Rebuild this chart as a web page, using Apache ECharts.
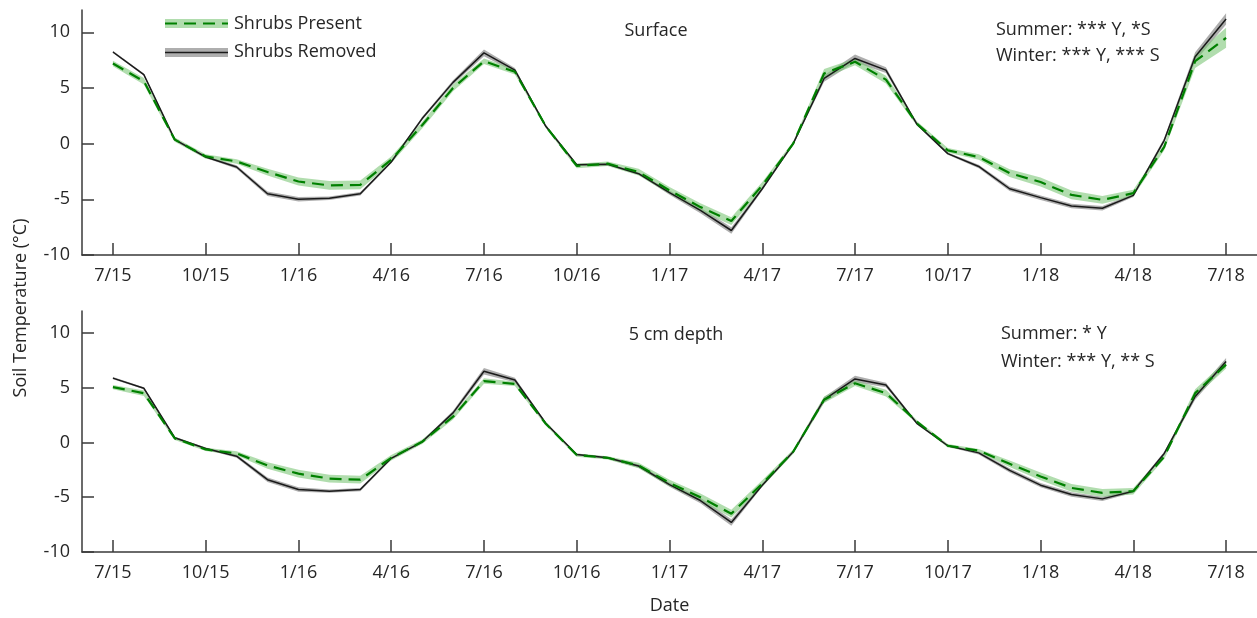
<!DOCTYPE html>
<html>
<head>
<meta charset="utf-8">
<script src="https://cdn.jsdelivr.net/npm/echarts@6/dist/echarts.min.js"></script>
<style>
  html, body { margin: 0; padding: 0; background: #fff; }
  #chart { width: 1257px; height: 618px; }
</style>
</head>
<body>
<div id="chart"></div>
<script>
// Monthly mean soil temperature, 7/15 .. 7/18 (month index 0..36)
const tickLabels = ['7/15','10/15','1/16','4/16','7/16','10/16','1/17','4/17','7/17','10/17','1/18','4/18','7/18'];
const tickMonths = [0,3,6,9,12,15,18,21,24,27,30,33,36];

// Surface
const surfPresent = [7.2, 5.6, 0.36, -1.15, -1.6, -2.55, -3.4, -3.75, -3.7, -1.45, 1.65, 5.0, 7.4,
  6.45, 1.56, -2.0, -1.8, -2.55, -4.2, -5.7, -6.95, -3.75, 0.0, 6.3, 7.35, 5.75,
  1.8, -0.6, -1.2, -2.65, -3.45, -4.6, -5.05, -4.45, -0.3, 7.4, 9.5];
const surfRemoved = [8.23, 6.2, 0.36, -1.2, -2.1, -4.5, -5.0, -4.9, -4.5, -1.65, 2.25, 5.5, 8.15,
  6.6, 1.56, -1.9, -1.85, -2.7, -4.4, -6.0, -7.8, -4.05, 0.0, 5.85, 7.65, 6.6,
  1.75, -0.9, -2.05, -4.05, -4.85, -5.6, -5.8, -4.65, 0.3, 7.8, 11.2];
const surfPresentSE = [0.25, 0.3, 0.2, 0.2, 0.2, 0.3, 0.35, 0.4, 0.4, 0.3, 0.3, 0.3, 0.25,
  0.25, 0.15, 0.2, 0.2, 0.3, 0.3, 0.35, 0.35, 0.3, 0.2, 0.4, 0.3, 0.35,
  0.2, 0.2, 0.25, 0.35, 0.4, 0.4, 0.35, 0.3, 0.3, 0.6, 0.9];
const surfRemovedSE = [0.1, 0.1, 0.1, 0.1, 0.15, 0.2, 0.2, 0.15, 0.15, 0.1, 0.15, 0.2, 0.3,
  0.2, 0.1, 0.1, 0.1, 0.1, 0.2, 0.25, 0.3, 0.15, 0.1, 0.3, 0.35, 0.25,
  0.1, 0.1, 0.15, 0.2, 0.2, 0.2, 0.2, 0.15, 0.2, 0.4, 0.5];

// 5 cm depth
const depthPresent = [5.05, 4.5, 0.37, -0.64, -1.0, -2.1, -2.85, -3.3, -3.4, -1.4, 0.06, 2.35, 5.6,
  5.35, 1.7, -1.15, -1.4, -2.1, -3.7, -5.0, -6.5, -3.75, -0.85, 3.9, 5.4, 4.5,
  1.9, -0.3, -0.75, -1.95, -3.1, -4.15, -4.6, -4.45, -1.3, 4.5, 7.1];
const depthRemoved = [5.87, 4.95, 0.43, -0.55, -1.25, -3.4, -4.3, -4.45, -4.3, -1.45, 0.06, 2.7, 6.5,
  5.7, 1.75, -1.1, -1.4, -2.15, -3.85, -5.3, -7.3, -3.9, -0.85, 3.9, 5.8, 5.25,
  1.75, -0.3, -0.95, -2.55, -3.9, -4.75, -5.15, -4.45, -1.0, 4.2, 7.4];
const depthPresentSE = [0.2, 0.25, 0.15, 0.15, 0.2, 0.3, 0.35, 0.35, 0.35, 0.25, 0.2, 0.25, 0.25,
  0.2, 0.15, 0.15, 0.15, 0.25, 0.3, 0.35, 0.35, 0.3, 0.2, 0.3, 0.25, 0.3,
  0.15, 0.15, 0.15, 0.3, 0.35, 0.35, 0.35, 0.3, 0.2, 0.35, 0.35];
const depthRemovedSE = [0.1, 0.1, 0.1, 0.1, 0.15, 0.2, 0.2, 0.15, 0.15, 0.1, 0.1, 0.2, 0.3,
  0.2, 0.1, 0.1, 0.1, 0.15, 0.2, 0.25, 0.3, 0.15, 0.1, 0.25, 0.3, 0.2,
  0.1, 0.1, 0.15, 0.2, 0.2, 0.2, 0.2, 0.15, 0.15, 0.3, 0.3];

const yTicks = [-10, -5, 0, 5, 10];

const FONT = '"Open Sans", "Noto Sans", sans-serif';
const FS = 18;
const AXIS_COLOR = '#3a3a3a';
const TEXT_COLOR = '#262626';
const GREEN = '#008000';
const GREEN_BAND = 'rgba(125, 198, 120, 0.6)';
const GRAY_BAND = 'rgba(120, 120, 120, 0.6)';
const BLACK = '#1a1a1a';

function xAxisFor(gridIndex, withName) {
  return {
    type: 'value', gridIndex, min: -1, max: 37,
    axisLine: { show: true, onZero: false, lineStyle: { color: AXIS_COLOR, width: 1.5 } },
    axisTick: { show: true, inside: true, length: 12, customValues: tickMonths,
                lineStyle: { color: AXIS_COLOR, width: 1.5 } },
    axisLabel: { customValues: tickMonths, margin: 12, color: TEXT_COLOR,
                 fontFamily: FONT, fontSize: FS,
                 formatter: v => tickLabels[tickMonths.indexOf(Math.round(v))] || '' },
    splitLine: { show: false },
    name: withName ? 'Date' : '', nameLocation: 'middle', nameGap: 45,
    nameTextStyle: { color: TEXT_COLOR, fontFamily: FONT, fontSize: FS }
  };
}

function yAxisFor(gridIndex) {
  return {
    type: 'value', gridIndex, min: -10, max: 12,
    axisLine: { show: true, onZero: false, lineStyle: { color: AXIS_COLOR, width: 1.5 } },
    axisTick: { show: true, inside: true, length: 12, customValues: yTicks,
                lineStyle: { color: AXIS_COLOR, width: 1.5 } },
    axisLabel: { customValues: yTicks, margin: 12, color: TEXT_COLOR,
                 fontFamily: FONT, fontSize: FS },
    splitLine: { show: false }
  };
}

// Shaded band (mean ± SE) drawn as one polygon through the axis scales
function band(g, mean, se, color, z) {
  const data = mean.map((v, i) => [i, v - se[i], v + se[i]]);
  return {
    type: 'custom', xAxisIndex: g, yAxisIndex: g, silent: true, z, clip: true,
    encode: { x: 0, y: [1, 2] },
    data,
    renderItem(params, api) {
      if (params.dataIndex !== 0) return null;
      const upper = data.map(d => api.coord([d[0], d[2]]));
      const lower = data.map(d => api.coord([d[0], d[1]])).reverse();
      return { type: 'polygon', shape: { points: upper.concat(lower) },
               style: { fill: color } };
    }
  };
}

function meanLine(g, mean, style, z) {
  return {
    type: 'line', xAxisIndex: g, yAxisIndex: g, symbol: 'none', silent: true,
    data: mean.map((v, i) => [i, v]), lineStyle: style, z
  };
}

const greenStyle = { color: GREEN, width: 2.2, type: [12, 7] };
const blackStyle = { color: BLACK, width: 1.5 };

const series = [
  band(0, surfRemoved, surfRemovedSE, GRAY_BAND, 1),
  band(0, surfPresent, surfPresentSE, GREEN_BAND, 2),
  meanLine(0, surfRemoved, blackStyle, 3),
  meanLine(0, surfPresent, greenStyle, 4),
  band(1, depthRemoved, depthRemovedSE, GRAY_BAND, 1),
  band(1, depthPresent, depthPresentSE, GREEN_BAND, 2),
  meanLine(1, depthRemoved, blackStyle, 3),
  meanLine(1, depthPresent, greenStyle, 4)
];

const txt = (x, y, text, align) => ({
  type: 'text', x, y, z: 10,
  style: { text, fill: TEXT_COLOR, font: FS + 'px ' + FONT, align: align || 'left', verticalAlign: 'middle' }
});

const graphic = [
  // legend samples
  { type: 'rect', z: 10, shape: { x: 165, y: 19, width: 63, height: 9 }, style: { fill: GREEN_BAND } },
  { type: 'line', z: 10, shape: { x1: 165, y1: 23.5, x2: 228, y2: 23.5 },
    style: { stroke: GREEN, lineWidth: 2.2, lineDash: [12, 7] } },
  { type: 'rect', z: 10, shape: { x: 165, y: 48, width: 63, height: 9 }, style: { fill: GRAY_BAND } },
  { type: 'line', z: 10, shape: { x1: 165, y1: 52.5, x2: 228, y2: 52.5 },
    style: { stroke: BLACK, lineWidth: 1.5 } },
  txt(234, 24, 'Shrubs Present'),
  txt(234, 52, 'Shrubs Removed'),
  // panel titles
  txt(656, 31, 'Surface', 'center'),
  txt(676, 335, '5 cm depth', 'center'),
  // significance notes
  txt(996, 30, 'Summer: *** Y, *S'),
  txt(996, 56, 'Winter: *** Y, *** S'),
  txt(1001, 334, 'Summer: * Y'),
  txt(1001, 362, 'Winter: *** Y, ** S'),
  // shared y-axis title
  { type: 'text', x: 21, y: 308, rotation: Math.PI / 2, z: 10,
    style: { text: 'Soil Temperature (°C)', fill: TEXT_COLOR, font: FS + 'px ' + FONT,
             align: 'center', verticalAlign: 'middle' } }
];

const chart = echarts.init(document.getElementById('chart'), null, { renderer: 'canvas' });
chart.setOption({
  backgroundColor: '#ffffff',
  animation: false,
  grid: [
    { left: 82, top: 10, width: 1175, height: 245 },
    { left: 82, top: 311, width: 1175, height: 241 }
  ],
  xAxis: [xAxisFor(0, false), xAxisFor(1, true)],
  yAxis: [yAxisFor(0), yAxisFor(1)],
  series,
  graphic
});
</script>
</body>
</html>
